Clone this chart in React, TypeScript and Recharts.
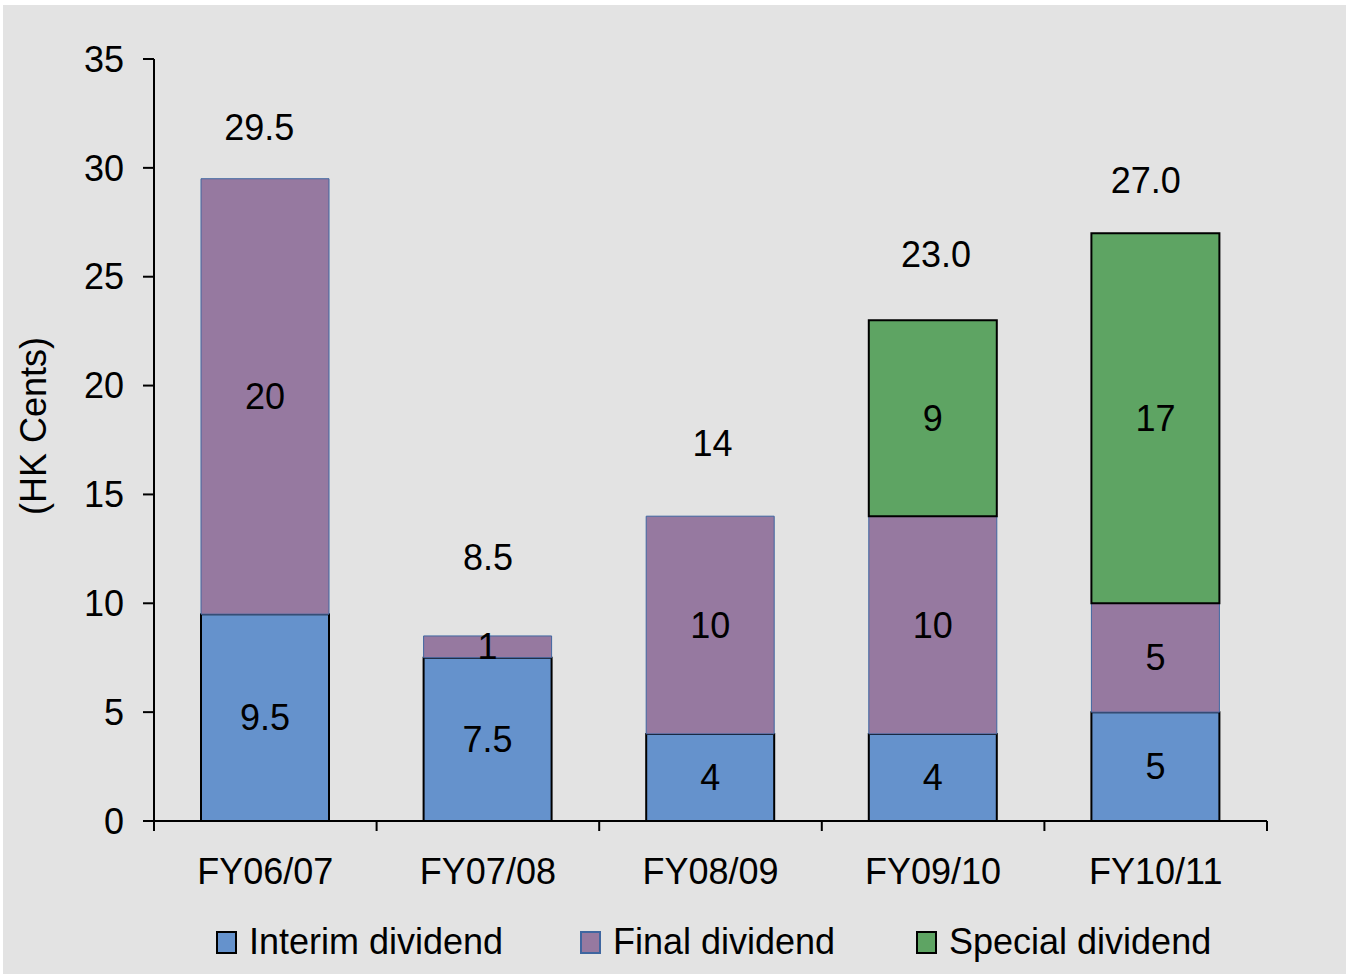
import {
  ComposedChart,
  Bar,
  Line,
  XAxis,
  YAxis,
  LabelList,
  Label,
} from "recharts";

// Dividend per share, HK cents
const categories = ["FY06/07", "FY07/08", "FY08/09", "FY09/10", "FY10/11"];
const interim = [9.5, 7.5, 4, 4, 5];
const finalDiv = [20, 1, 10, 10, 5];
const special = [null, null, null, 9, 17];
const totalText = ["29.5", "8.5", "14", "23.0", "27.0"];
const yTicks = [0, 5, 10, 15, 20, 25, 30, 35];

const CHART_W = 1346;
const CHART_H = 974;
const PLOT_LEFT = 154;
const PLOT_RIGHT = 1267;
const PLOT_BOTTOM = 821;
const BAND = (PLOT_RIGHT - PLOT_LEFT) / categories.length;
const FONT = "'Liberation Sans', Arial, sans-serif";
const FS = 36;

// where each total sits relative to the top of its stack, px
const totalLift = [51, 78, 73, 66, 53];
const totalShift = [-6, 0, 2, 3, -10];

const COLORS = {
  interim: "#6592cc",
  final: "#9679a0",
  special: "#5ea463",
};

const data = categories.map((name, i) => ({
  name,
  interim: interim[i],
  final: finalDiv[i],
  special: special[i],
  total: interim[i] + finalDiv[i] + (special[i] ?? 0),
}));

function SegmentLabel(props: any) {
  const { x, y, width, height, value } = props;
  if (!value) return null;
  return (
    <text
      x={x + width / 2}
      y={y + height / 2}
      textAnchor="middle"
      dominantBaseline="central"
      fontSize={FS}
      fontFamily={FONT}
      fill="#000"
    >
      {value}
    </text>
  );
}

function TotalLabel(props: any) {
  const { x, y, index } = props;
  return (
    <text
      x={x + totalShift[index]}
      y={y - totalLift[index]}
      textAnchor="middle"
      dominantBaseline="central"
      fontSize={FS}
      fontFamily={FONT}
      fill="#000"
    >
      {totalText[index]}
    </text>
  );
}

// category label plus tick marks on the band edges
function XTick(props: any) {
  const { x, payload, index } = props;
  const half = BAND / 2;
  return (
    <g>
      <line x1={x - half} x2={x - half} y1={PLOT_BOTTOM} y2={PLOT_BOTTOM + 10} stroke="#000" strokeWidth={2} />
      {index === categories.length - 1 && (
        <line x1={x + half} x2={x + half} y1={PLOT_BOTTOM} y2={PLOT_BOTTOM + 10} stroke="#000" strokeWidth={2} />
      )}
      <text
        x={x}
        y={871}
        textAnchor="middle"
        dominantBaseline="central"
        fontSize={FS}
        fontFamily={FONT}
        fill="#000"
      >
        {payload.value}
      </text>
    </g>
  );
}

const legendItems = [
  { label: "Interim dividend", color: COLORS.interim, border: "#000", left: 216 },
  { label: "Final dividend", color: COLORS.final, border: "#3f66a0", left: 580 },
  { label: "Special dividend", color: COLORS.special, border: "#000", left: 916 },
];

export default function App() {
  return (
    <div style={{ position: "absolute", left: 0, top: 0, width: CHART_W, height: CHART_H, background: "#fff" }}>
      <div style={{ position: "absolute", left: 3, top: 5, right: 0, bottom: 0, background: "#e3e3e3" }} />
      <div style={{ position: "absolute", left: 0, top: 0 }}>
        <ComposedChart
          width={CHART_W}
          height={CHART_H}
          data={data}
          margin={{ top: 59, right: CHART_W - PLOT_RIGHT, bottom: 93, left: 0 }}
          barSize={128}
        >
          <XAxis
            dataKey="name"
            height={60}
            axisLine={{ stroke: "#000", strokeWidth: 2 }}
            tickLine={false}
            tick={<XTick />}
            interval={0}
          />
          <YAxis
            width={PLOT_LEFT}
            domain={[0, 35]}
            ticks={yTicks}
            interval={0}
            axisLine={{ stroke: "#000", strokeWidth: 2 }}
            tickLine={{ stroke: "#000", strokeWidth: 2 }}
            tickSize={11}
            tickMargin={19}
            tick={{ fill: "#000", fontSize: FS, fontFamily: FONT }}
          >
            <Label
              content={() => (
                <text
                  transform="translate(33,426) rotate(-90)"
                  textAnchor="middle"
                  dominantBaseline="central"
                  fontSize={FS}
                  fontFamily={FONT}
                  fill="#000"
                >
                  (HK Cents)
                </text>
              )}
            />
          </YAxis>
          <Bar dataKey="interim" stackId="d" fill={COLORS.interim} stroke="#000" strokeWidth={2} isAnimationActive={false}>
            <LabelList dataKey="interim" content={<SegmentLabel />} />
          </Bar>
          <Bar dataKey="final" stackId="d" fill={COLORS.final} stroke="#3f66a0" strokeWidth={1} isAnimationActive={false}>
            <LabelList dataKey="final" content={<SegmentLabel />} />
          </Bar>
          <Bar dataKey="special" stackId="d" fill={COLORS.special} stroke="#000" strokeWidth={2} isAnimationActive={false}>
            <LabelList dataKey="special" content={<SegmentLabel />} />
          </Bar>
          <Line
            dataKey="total"
            stroke="none"
            dot={false}
            activeDot={false}
            legendType="none"
            isAnimationActive={false}
          >
            <LabelList dataKey="total" content={<TotalLabel />} />
          </Line>
        </ComposedChart>
      </div>
      {legendItems.map((item) => (
        <div
          key={item.label}
          style={{
            position: "absolute",
            left: item.left,
            top: 921,
            height: 42,
            display: "flex",
            alignItems: "center",
            fontFamily: FONT,
            fontSize: FS,
            color: "#000",
            whiteSpace: "nowrap",
          }}
        >
          <span
            style={{
              display: "inline-block",
              width: 17,
              height: 19,
              background: item.color,
              border: `2px solid ${item.border}`,
              marginRight: 12,
            }}
          />
          {item.label}
        </div>
      ))}
    </div>
  );
}
